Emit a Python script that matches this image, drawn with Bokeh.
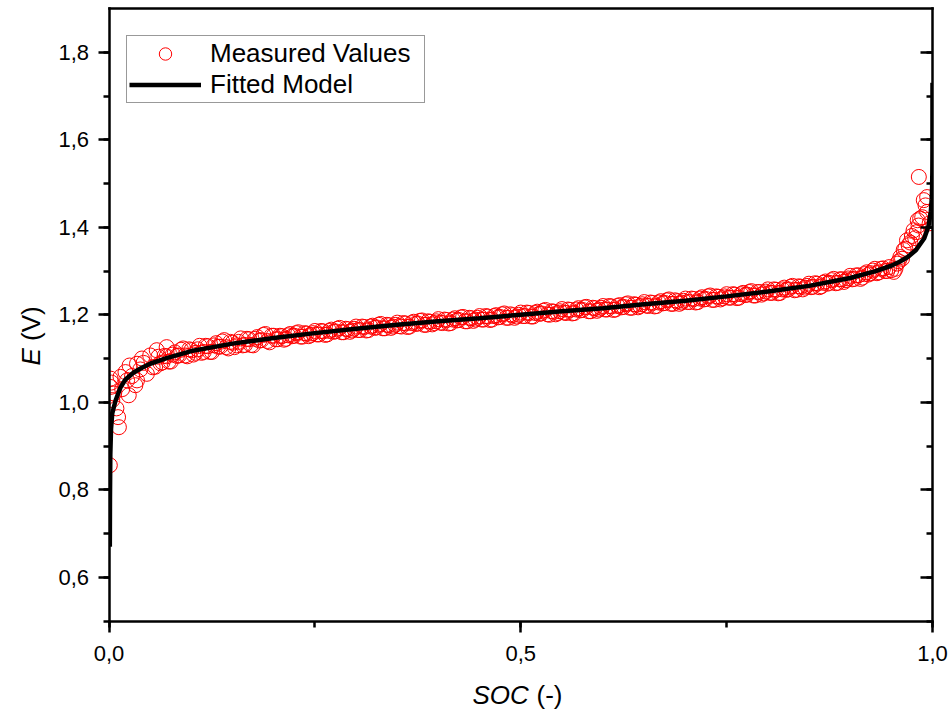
from bokeh.plotting import figure
from bokeh.models import (LinearAxis, SingleIntervalTicker, CustomJSTickFormatter, Range1d,
                          Legend, LegendItem, Label, BoxAnnotation)
from bokeh.embed import file_html
from bokeh.resources import INLINE

FONT = "Liberation Sans"

# ---- data ----
soc_left = [0.001, 0.002, 0.002, 0.003, 0.004, 0.006, 0.009, 0.011, 0.012, 0.014,
            0.016, 0.020, 0.022, 0.024, 0.025, 0.028, 0.032, 0.034, 0.034, 0.038,
            0.040, 0.042, 0.046, 0.050, 0.053, 0.056, 0.058, 0.070]
e_left = [0.856, 1.054, 1.035, 1.045, 1.005, 1.020, 0.986, 0.966, 0.943, 1.058,
          1.030, 1.069, 1.050, 1.016, 1.084, 1.060, 1.039, 1.050, 1.088, 1.075,
          1.100, 1.090, 1.065, 1.107, 1.080, 1.081, 1.119, 1.126]

soc_mid = [0.060, 0.065, 0.070, 0.075, 0.080, 0.085, 0.090, 0.095, 0.100, 0.105,
           0.110, 0.115, 0.120, 0.125, 0.130, 0.135, 0.140, 0.145, 0.150, 0.155,
           0.160, 0.165, 0.170, 0.175, 0.180, 0.185, 0.190, 0.195,
           0.200, 0.205, 0.210, 0.215, 0.220, 0.225, 0.230, 0.235, 0.240, 0.245,
           0.250, 0.255, 0.260, 0.265, 0.270, 0.275, 0.280, 0.285, 0.290, 0.295,
           0.300, 0.305, 0.310, 0.315, 0.320, 0.325, 0.330, 0.335, 0.340, 0.345,
           0.350, 0.355, 0.360, 0.365, 0.370, 0.375, 0.380, 0.385, 0.390, 0.395,
           0.400, 0.405, 0.410, 0.415, 0.420, 0.425, 0.430, 0.435, 0.440, 0.445,
           0.450, 0.455, 0.460, 0.465, 0.470, 0.475, 0.480, 0.485, 0.490, 0.495,
           0.500, 0.505, 0.510, 0.515, 0.520, 0.525, 0.530, 0.535, 0.540, 0.545,
           0.550, 0.555, 0.560, 0.565, 0.570, 0.575, 0.580, 0.585, 0.590, 0.595,
           0.600, 0.605, 0.610, 0.615, 0.620, 0.625, 0.630, 0.635, 0.640, 0.645,
           0.650, 0.655, 0.660, 0.665, 0.670, 0.675, 0.680, 0.685, 0.690, 0.695,
           0.700, 0.705, 0.710, 0.715, 0.720, 0.725, 0.730, 0.735, 0.740, 0.745,
           0.750, 0.755, 0.760, 0.765, 0.770, 0.775, 0.780, 0.785, 0.790, 0.795,
           0.800, 0.805, 0.810, 0.815, 0.820, 0.825, 0.830, 0.835, 0.840, 0.845,
           0.850, 0.855, 0.860, 0.865, 0.870, 0.875, 0.880, 0.885, 0.890, 0.895,
           0.900, 0.905, 0.910, 0.915, 0.920, 0.925, 0.930, 0.935, 0.940, 0.945, 0.950]
e_mid = [1.104, 1.091, 1.105, 1.093, 1.114, 1.107, 1.123, 1.105, 1.119, 1.113,
         1.129, 1.115, 1.128, 1.115, 1.135, 1.127, 1.142, 1.123, 1.136, 1.130,
         1.146, 1.131, 1.144, 1.130, 1.149, 1.142, 1.156, 1.137,
         1.152, 1.144, 1.151, 1.145, 1.156, 1.152, 1.160, 1.150, 1.157, 1.154,
         1.163, 1.155, 1.162, 1.155, 1.166, 1.162, 1.170, 1.160, 1.167, 1.164,
         1.173, 1.165, 1.172, 1.165, 1.175, 1.171, 1.179, 1.169, 1.176, 1.173,
         1.182, 1.173, 1.180, 1.173, 1.184, 1.180, 1.187, 1.177, 1.184, 1.181,
         1.190, 1.181, 1.188, 1.181, 1.192, 1.188, 1.195, 1.185, 1.192, 1.189,
         1.197, 1.189, 1.196, 1.189, 1.199, 1.195, 1.203, 1.193, 1.199, 1.196,
         1.205, 1.197, 1.204, 1.196, 1.207, 1.203, 1.211, 1.200, 1.207, 1.204,
         1.213, 1.204, 1.211, 1.204, 1.215, 1.211, 1.218, 1.208, 1.215, 1.212,
         1.220, 1.212, 1.219, 1.212, 1.222, 1.218, 1.226, 1.216, 1.223, 1.220,
         1.229, 1.220, 1.227, 1.220, 1.231, 1.227, 1.235, 1.225, 1.231, 1.228,
         1.237, 1.229, 1.236, 1.229, 1.240, 1.236, 1.244, 1.234, 1.241, 1.238,
         1.247, 1.239, 1.246, 1.239, 1.250, 1.246, 1.254, 1.244, 1.252, 1.249,
         1.258, 1.250, 1.257, 1.250, 1.262, 1.258, 1.266, 1.257, 1.264, 1.262,
         1.271, 1.264, 1.271, 1.265, 1.276, 1.273, 1.282, 1.273, 1.281, 1.279,
         1.289, 1.282, 1.290, 1.285, 1.297, 1.295, 1.305, 1.297, 1.306, 1.300, 1.302]

soc_mid2 = [0.0625, 0.0675, 0.0725, 0.0775, 0.0825, 0.0875, 0.0925, 0.0975, 0.1025, 0.1075,
            0.1125, 0.1175, 0.1225, 0.1275, 0.1325, 0.1375, 0.1425, 0.1475, 0.1525, 0.1575,
            0.1625, 0.1675, 0.1725, 0.1775, 0.1825, 0.1875, 0.1925, 0.1975,
            0.2025, 0.2075, 0.2125, 0.2175, 0.2225, 0.2275, 0.2325, 0.2375, 0.2425, 0.2475,
            0.2525, 0.2575, 0.2625, 0.2675, 0.2725, 0.2775, 0.2825, 0.2875, 0.2925, 0.2975,
            0.3025, 0.3075, 0.3125, 0.3175, 0.3225, 0.3275, 0.3325, 0.3375, 0.3425, 0.3475,
            0.3525, 0.3575, 0.3625, 0.3675, 0.3725, 0.3775, 0.3825, 0.3875, 0.3925, 0.3975,
            0.4025, 0.4075, 0.4125, 0.4175, 0.4225, 0.4275, 0.4325, 0.4375, 0.4425, 0.4475,
            0.4525, 0.4575, 0.4625, 0.4675, 0.4725, 0.4775, 0.4825, 0.4875, 0.4925, 0.4975,
            0.5025, 0.5075, 0.5125, 0.5175, 0.5225, 0.5275, 0.5325, 0.5375, 0.5425, 0.5475,
            0.5525, 0.5575, 0.5625, 0.5675, 0.5725, 0.5775, 0.5825, 0.5875, 0.5925, 0.5975,
            0.6025, 0.6075, 0.6125, 0.6175, 0.6225, 0.6275, 0.6325, 0.6375, 0.6425, 0.6475,
            0.6525, 0.6575, 0.6625, 0.6675, 0.6725, 0.6775, 0.6825, 0.6875, 0.6925, 0.6975,
            0.7025, 0.7075, 0.7125, 0.7175, 0.7225, 0.7275, 0.7325, 0.7375, 0.7425, 0.7475,
            0.7525, 0.7575, 0.7625, 0.7675, 0.7725, 0.7775, 0.7825, 0.7875, 0.7925, 0.7975,
            0.8025, 0.8075, 0.8125, 0.8175, 0.8225, 0.8275, 0.8325, 0.8375, 0.8425, 0.8475,
            0.8525, 0.8575, 0.8625, 0.8675, 0.8725, 0.8775, 0.8825, 0.8875, 0.8925, 0.8975,
            0.9025, 0.9075, 0.9125, 0.9175, 0.9225, 0.9275, 0.9325, 0.9375, 0.9425, 0.9475]
e_mid2 = [1.089, 1.106, 1.093, 1.109, 1.106, 1.120, 1.107, 1.121, 1.109, 1.121,
          1.113, 1.129, 1.115, 1.130, 1.127, 1.139, 1.126, 1.138, 1.126, 1.138,
          1.130, 1.145, 1.131, 1.145, 1.141, 1.154, 1.140, 1.152,
          1.144, 1.152, 1.143, 1.153, 1.151, 1.158, 1.150, 1.158, 1.151, 1.158,
          1.155, 1.163, 1.154, 1.163, 1.161, 1.168, 1.160, 1.168, 1.161, 1.168,
          1.165, 1.173, 1.164, 1.173, 1.170, 1.177, 1.169, 1.177, 1.170, 1.177,
          1.174, 1.181, 1.172, 1.181, 1.179, 1.186, 1.177, 1.185, 1.178, 1.185,
          1.182, 1.189, 1.180, 1.189, 1.187, 1.194, 1.185, 1.193, 1.186, 1.193,
          1.189, 1.197, 1.188, 1.197, 1.194, 1.201, 1.193, 1.201, 1.193, 1.200,
          1.197, 1.205, 1.196, 1.204, 1.202, 1.209, 1.201, 1.208, 1.201, 1.208,
          1.205, 1.212, 1.203, 1.212, 1.210, 1.217, 1.208, 1.216, 1.209, 1.216,
          1.212, 1.220, 1.211, 1.220, 1.217, 1.224, 1.216, 1.224, 1.217, 1.224,
          1.221, 1.228, 1.219, 1.228, 1.226, 1.233, 1.225, 1.233, 1.225, 1.232,
          1.229, 1.237, 1.228, 1.237, 1.235, 1.242, 1.234, 1.242, 1.235, 1.242,
          1.239, 1.247, 1.238, 1.247, 1.245, 1.252, 1.244, 1.252, 1.246, 1.253,
          1.250, 1.258, 1.249, 1.258, 1.257, 1.264, 1.256, 1.265, 1.258, 1.266,
          1.263, 1.272, 1.263, 1.273, 1.271, 1.279, 1.272, 1.281, 1.275, 1.283,
          1.281, 1.290, 1.282, 1.293, 1.292, 1.301, 1.295, 1.305, 1.300, 1.309]

soc_right = [0.953, 0.955, 0.957, 0.959, 0.961, 0.963, 0.965, 0.967, 0.969, 0.971,
             0.973, 0.975, 0.977, 0.979, 0.981, 0.982, 0.983, 0.985, 0.9875, 0.9894,
             0.9915, 0.9935, 0.9935, 0.9965, 0.9834]
e_right = [1.298, 1.305, 1.317, 1.322, 1.332, 1.328, 1.348, 1.351, 1.370, 1.359,
           1.365, 1.380, 1.393, 1.375, 1.389, 1.416, 1.404, 1.420, 1.423, 1.462,
           1.450, 1.435, 1.469, 1.409, 1.515]

soc_fit = [0.0010, 0.0012, 0.0016, 0.0025, 0.004, 0.008, 0.014, 0.02, 0.03,
           0.04, 0.05, 0.07, 0.10, 0.15, 0.20, 0.25, 0.30, 0.35, 0.40, 0.45, 0.50,
           0.55, 0.60, 0.65, 0.70, 0.75, 0.80, 0.85, 0.90, 0.93, 0.95, 0.96, 0.97,
           0.98, 0.99, 0.995, 0.998, 0.999, 0.9995, 0.9998, 0.99995, 0.999999]
e_fit = [0.670, 0.780, 0.880, 0.940, 0.975, 1.004, 1.034, 1.052, 1.068,
         1.079, 1.088, 1.101, 1.117, 1.134, 1.147, 1.158, 1.168, 1.177, 1.185, 1.192, 1.200,
         1.208, 1.215, 1.224, 1.232, 1.242, 1.253, 1.266, 1.284, 1.299, 1.312, 1.321, 1.332,
         1.348, 1.375, 1.401, 1.436, 1.463, 1.489, 1.524, 1.576, 1.730]

x_min, x_max = 0.0, 1.0
y_min, y_max = 0.5, 1.9
x_tick_step = 0.5
y_tick_step = 0.2
series_labels = ["Measured Values", "Fitted Model"]

soc_meas = soc_left + soc_mid + soc_mid2 + soc_right
e_meas = e_left + e_mid + e_mid2 + e_right

# ---- figure: frame covers the canvas, plot box drawn by fixed-location axes ----
W, H = 950, 712
BOX_L, BOX_R, BOX_T, BOX_B = 108.5, 932.0, 8.0, 620.5
xs = (BOX_R - BOX_L) / (x_max - x_min)
ys = (BOX_B - BOX_T) / (y_max - y_min)
xr = Range1d(x_min - BOX_L / xs, x_max + (W - BOX_R) / xs)
yr = Range1d(y_min - (H - BOX_B) / ys, y_max + BOX_T / ys)

p = figure(width=W, height=H, x_range=xr, y_range=yr,
           output_backend="svg", toolbar_location=None,
           x_axis_location=None, y_axis_location=None, min_border=0)
p.xgrid.visible = False
p.ygrid.visible = False
p.outline_line_color = None
p.background_fill_color = "white"
p.border_fill_color = "white"

fmt = CustomJSTickFormatter(code="return tick.toFixed(1).replace('.', ',');")


def make_axis(step, loc, bounds, mode, labels=True):
    ax = LinearAxis(ticker=SingleIntervalTicker(interval=step, num_minor_ticks=2),
                    formatter=fmt if labels else CustomJSTickFormatter(code="return '';"),
                    fixed_location=loc, bounds=bounds)
    ax.axis_line_width = 2.5
    ax.axis_line_cap = "square"
    ax.major_tick_line_width = 2.5
    ax.minor_tick_line_width = 2.5
    ax.major_tick_out = 11 if mode == "out" else 0
    ax.minor_tick_out = 6 if mode == "out" else 0
    ax.major_tick_in = 12 if mode == "in" else 0
    ax.minor_tick_in = 6 if mode == "in" else 0
    ax.major_label_text_font = FONT
    ax.major_label_text_font_size = "22px"
    ax.major_label_text_color = "black"
    return ax


xax = make_axis(x_tick_step, y_min, (x_min, x_max), "out")
xax.major_label_standoff = 14
p.add_layout(xax, "below")

yax = make_axis(y_tick_step, x_min, (y_min, y_max), "out")
yax.major_label_standoff = 9
p.add_layout(yax, "left")

p.add_layout(make_axis(y_tick_step, x_max, (y_min, y_max), "in", labels=False), "right")
p.add_layout(make_axis(x_tick_step, y_max, (x_min, x_max), "none", labels=False), "above")

r_sc = p.scatter(soc_meas, e_meas, marker="circle", size=15, fill_color=None,
                 line_color="#FF0000", line_width=1)
r_ln = p.line(soc_fit, e_fit, line_color="black", line_width=4.5)

# white masks so marks are clipped at the plot box like the original
for l, r in ((x_min - 1, x_min), (x_max, x_max + 1)):
    p.add_layout(BoxAnnotation(left=l, right=r, bottom=y_min - 1, top=y_max + 1,
                               fill_color="white", fill_alpha=1, line_color=None, level="glyph"))

legend = Legend(items=[LegendItem(label=series_labels[0], renderers=[r_sc]),
                       LegendItem(label=series_labels[1], renderers=[r_ln])],
                location=(126, H - 103), orientation="vertical")
legend.label_text_font = FONT
legend.label_text_font_size = "26px"
legend.label_text_color = "black"
legend.glyph_width = 72
legend.glyph_height = 31
legend.label_height = 31
legend.label_width = 212
legend.label_standoff = 9
legend.padding = 2
legend.spacing = 0
legend.margin = 0
legend.border_line_color = "#333333"
legend.border_line_width = 1
legend.background_fill_color = "white"
legend.background_fill_alpha = 1
p.add_layout(legend, "center")

# axis titles (italic symbol + upright unit), placed in data space
common = dict(text_font=FONT, text_font_size="26px", text_color="black",
              text_baseline="alphabetic", text_align="left")
p.add_layout(Label(x=0.4414, y=0.3320, text="SOC", text_font_style="italic", **common))
p.add_layout(Label(x=0.5191, y=0.3320, text="(-)", **common))
p.add_layout(Label(x=-0.0953, y=1.0840, text="E", angle=1.5708, text_font_style="italic", **common))
p.add_layout(Label(x=-0.0953, y=1.1402, text="(V)", angle=1.5708, **common))

open("out.html", "w").write(file_html(p, INLINE))
